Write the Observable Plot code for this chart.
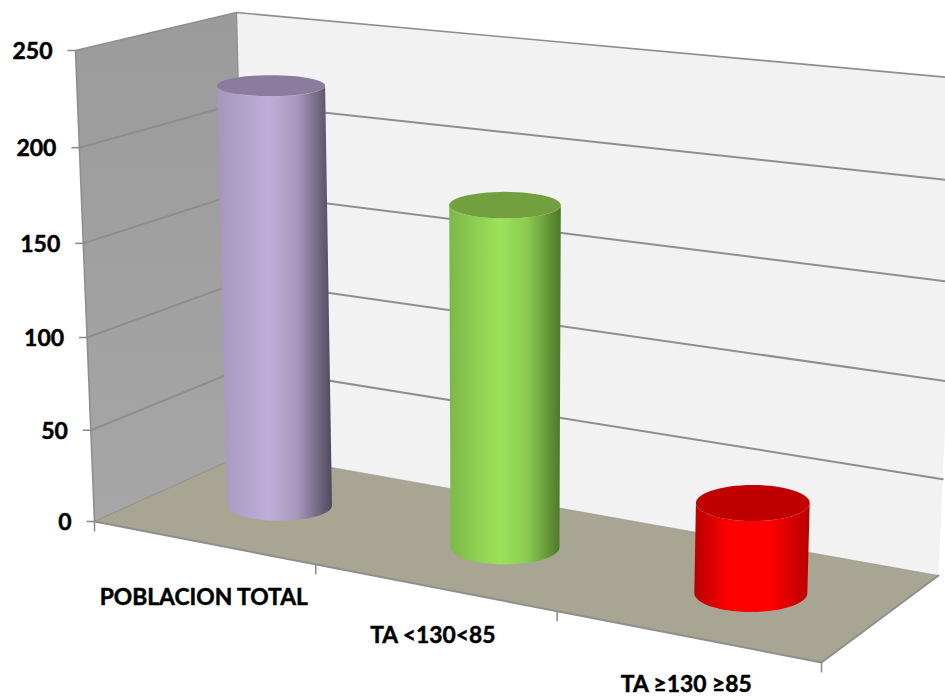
<!DOCTYPE html>
<html>
<head>
<meta charset="utf-8">
<script src="https://cdn.jsdelivr.net/npm/d3@7"></script>
<script src="https://cdn.jsdelivr.net/npm/@observablehq/plot@0.6"></script>
<style>
  html, body { margin: 0; padding: 0; background: #fff; }
  svg { display: block; }
</style>
</head>
<body>
<div id="chart"></div>
<script>
// Chart data
const categories = ["POBLACION TOTAL", "TA <130<85", "TA ≥130 ≥85"];
const values = [227, 179, 46];
const valueTicks = [0, 50, 100, 150, 200, 250];
const sideStops = [
  [["0%", "#a497bb"], ["45%", "#bfaed8"], ["70%", "#a798bc"], ["100%", "#4e495c"]],
  [["0%", "#7cb848"], ["45%", "#9ce25a"], ["70%", "#8ccb50"], ["100%", "#4c7729"]],
  [["0%", "#b60000"], ["30%", "#ff0000"], ["65%", "#ff0000"], ["100%", "#b80000"]]
];
const capColors = ["#8b7c9f", "#72a03e", "#c00000"];

// Scene: corners of the box as seen by the camera (front-left, front-right, back-right, back-left)
const vMax = 250;
const floorQuad = [[94, 521], [821, 662], [938, 575], [247, 452]];
const ceilQuad = [[75, 50], [838, 125], [960, 78], [236, 12]];

// Unit square to quadrilateral homography
function homography([[x0, y0], [x1, y1], [x2, y2], [x3, y3]]) {
  const dx1 = x1 - x2, dx2 = x3 - x2, sx = x0 - x1 + x2 - x3;
  const dy1 = y1 - y2, dy2 = y3 - y2, sy = y0 - y1 + y2 - y3;
  const den = dx1 * dy2 - dx2 * dy1;
  const g = (sx * dy2 - dx2 * sy) / den, h = (dx1 * sy - sx * dy1) / den;
  const a = x1 - x0 + g * x1, b = x3 - x0 + h * x3;
  const d = y1 - y0 + g * y1, e = y3 - y0 + h * y3;
  return (u, w) => {
    const q = g * u + h * w + 1;
    return [(a * u + b * w + x0) / q, (d * u + e * w + y0) / q];
  };
}
const floorAt = homography(floorQuad);
const ceilAt = homography(ceilQuad);
// Foreshortening along the value axis and along the categories
const rise = v => { const t = v / vMax; return t / (1.04 - 0.04 * t); };
const along = u => u / (1.02 - 0.02 * u);
// Scene position: u along the categories, d into the depth, v on the value axis
function project(u, d, v) {
  const w = along(u), t = rise(v);
  const [fx, fy] = floorAt(w, d), [cx, cy] = ceilAt(w, d);
  return { x: fx + (cx - fx) * t, y: fy + (cy - fy) * t };
}

// Cylinder outline helpers: uprights converge on a vanishing point below the chart
const barDepth = 0.5;
const vanishX = 504, vanishK = 11100;
const bars = categories.map((name, i) => {
  const u = (i + 0.5) / categories.length;
  const base = project(u, barDepth, 0), raw = project(u, barDepth, values[i]);
  const cap = { x: base.x - (vanishX - base.x) * (base.y - raw.y) / vanishK, y: raw.y };
  return { name, i, base, cap };
});
const radii = (p, lift) => ({
  rx: 52.5 + 0.0085 * (p.x - 278) + 0.004 * lift,
  ry: 11 + 0.011 * p.y + 0.006 * (p.x - 500)
});
const arc = (p, lift, from, to) => {
  const { rx, ry } = radii(p, lift);
  return d3.range(0, 61).map(k => {
    const a = from + (to - from) * k / 60;
    return { x: p.x + rx * Math.cos(a), y: p.y + ry * Math.sin(a) };
  });
};
const sideOf = b => {
  const h = b.base.y - b.cap.y;
  return [...arc(b.cap, h, Math.PI, 0), ...arc(b.base, 0, 0, Math.PI)];
};
const capOf = b => arc(b.cap, b.base.y - b.cap.y, 0, 2 * Math.PI);

// Surfaces and rules of the box
const px = p => p.x, py = p => p.y;
const leftWall = [project(0, 0, 0), project(0, 0, vMax), project(0, 1, vMax), project(0, 1, 0)];
const backWall = [project(0, 1, 0), project(0, 1, vMax), project(1, 1, vMax), project(1, 1, 0)];
const floorPlane = [project(0, 0, 0), project(1, 0, 0), project(1, 1, 0), project(0, 1, 0)];
const ruleColor = "#8e8e8e";
const poly = (pts, o) => Plot.line(pts, { x: px, y: py, ...o });

const gradientDefs = () => {
  const defs = d3.create("svg:defs");
  sideStops.forEach((stops, i) => {
    const g = defs.append("linearGradient").attr("id", `side${i}`);
    stops.forEach(([offset, color]) => g.append("stop").attr("offset", offset).attr("stop-color", color));
  });
  const w = defs.append("linearGradient").attr("id", "wallShade").attr("x2", 0).attr("y2", 1);
  w.append("stop").attr("offset", "0%").attr("stop-color", "#9b9b9b");
  w.append("stop").attr("offset", "100%").attr("stop-color", "#a6a6a6");
  return defs.node();
};

// Category label offsets from the floor edge
const labelNudge = [1, -1, 0];
const labelDrop = [55, 48, 48];
const fontFamily = "Lato, 'Open Sans', sans-serif";
const frontEdge = b => project((b.i + 0.5) / categories.length, 0, 0);

const figure = Plot.plot({
  width: 945,
  height: 698,
  margin: 0,
  style: { background: "#fff", fontFamily },
  x: { type: "linear", domain: [0, 945], range: [0, 945], axis: null },
  y: { type: "linear", domain: [0, 698], range: [0, 698], axis: null },
  marks: [
    gradientDefs,
    // Box surfaces
    poly(backWall, { fill: "#f2f2f2", stroke: "none" }),
    poly(leftWall, { fill: "url(#wallShade)", stroke: "none" }),
    poly(floorPlane, { fill: "#a8a592", stroke: "none" }),
    // Gridlines on both walls
    ...valueTicks.filter(v => v > 0).map(v => poly(
      [project(0, 0, v), project(0, 1, v), project(1, 1, v)],
      { stroke: ruleColor, strokeWidth: v === vMax ? 1.6 : 2 })),
    poly([project(0, 1, 0), project(1, 1, 0)], { stroke: ruleColor, strokeWidth: 0.8, strokeOpacity: 0.7 }),
    poly([project(0, 0, 0), project(0, 1, 0)], { stroke: ruleColor, strokeWidth: 1 }),
    poly([project(0, 0, 0), project(0, 0, vMax)], { stroke: ruleColor, strokeWidth: 1.6 }),
    poly([project(0, 1, 0), project(0, 1, vMax)], { stroke: ruleColor, strokeWidth: 1.2 }),
    // Floor edges
    poly([project(0, 0, 0), project(1, 0, 0), project(1, 1, 0)], { stroke: ruleColor, strokeWidth: 2 }),
    // Value axis ticks and labels
    Plot.link(valueTicks, {
      x1: v => project(0, 0, v).x - 8, y1: v => project(0, 0, v).y,
      x2: v => project(0, 0, v).x, y2: v => project(0, 0, v).y,
      stroke: ruleColor, strokeWidth: 1.6
    }),
    Plot.text(valueTicks, {
      x: v => project(0, 0, v).x - 23, y: v => project(0, 0, v).y + 1,
      text: v => String(v), textAnchor: "end",
      fontSize: 23, fontWeight: 700, fill: "#000", stroke: "#000", strokeWidth: 0.5
    }),
    // Category ticks and labels
    Plot.link(d3.range(categories.length + 1), {
      x1: k => project(k / categories.length, 0, 0).x, y1: k => project(k / categories.length, 0, 0).y,
      x2: k => project(k / categories.length, 0, 0).x, y2: k => project(k / categories.length, 0, 0).y + 10,
      stroke: ruleColor, strokeWidth: 1.6
    }),
    Plot.text(bars, {
      x: b => frontEdge(b).x + labelNudge[b.i],
      y: b => frontEdge(b).y + labelDrop[b.i],
      text: "name", fontSize: 22.8, fontWeight: 700, fill: "#000", stroke: "#000", strokeWidth: 0.5
    }),
    // Cylinders
    ...bars.flatMap(b => [
      poly(sideOf(b), { fill: `url(#side${b.i})`, stroke: "none" }),
      poly(capOf(b), { fill: capColors[b.i], stroke: "none" })
    ])
  ]
});
document.getElementById("chart").appendChild(figure);
</script>
</body>
</html>
